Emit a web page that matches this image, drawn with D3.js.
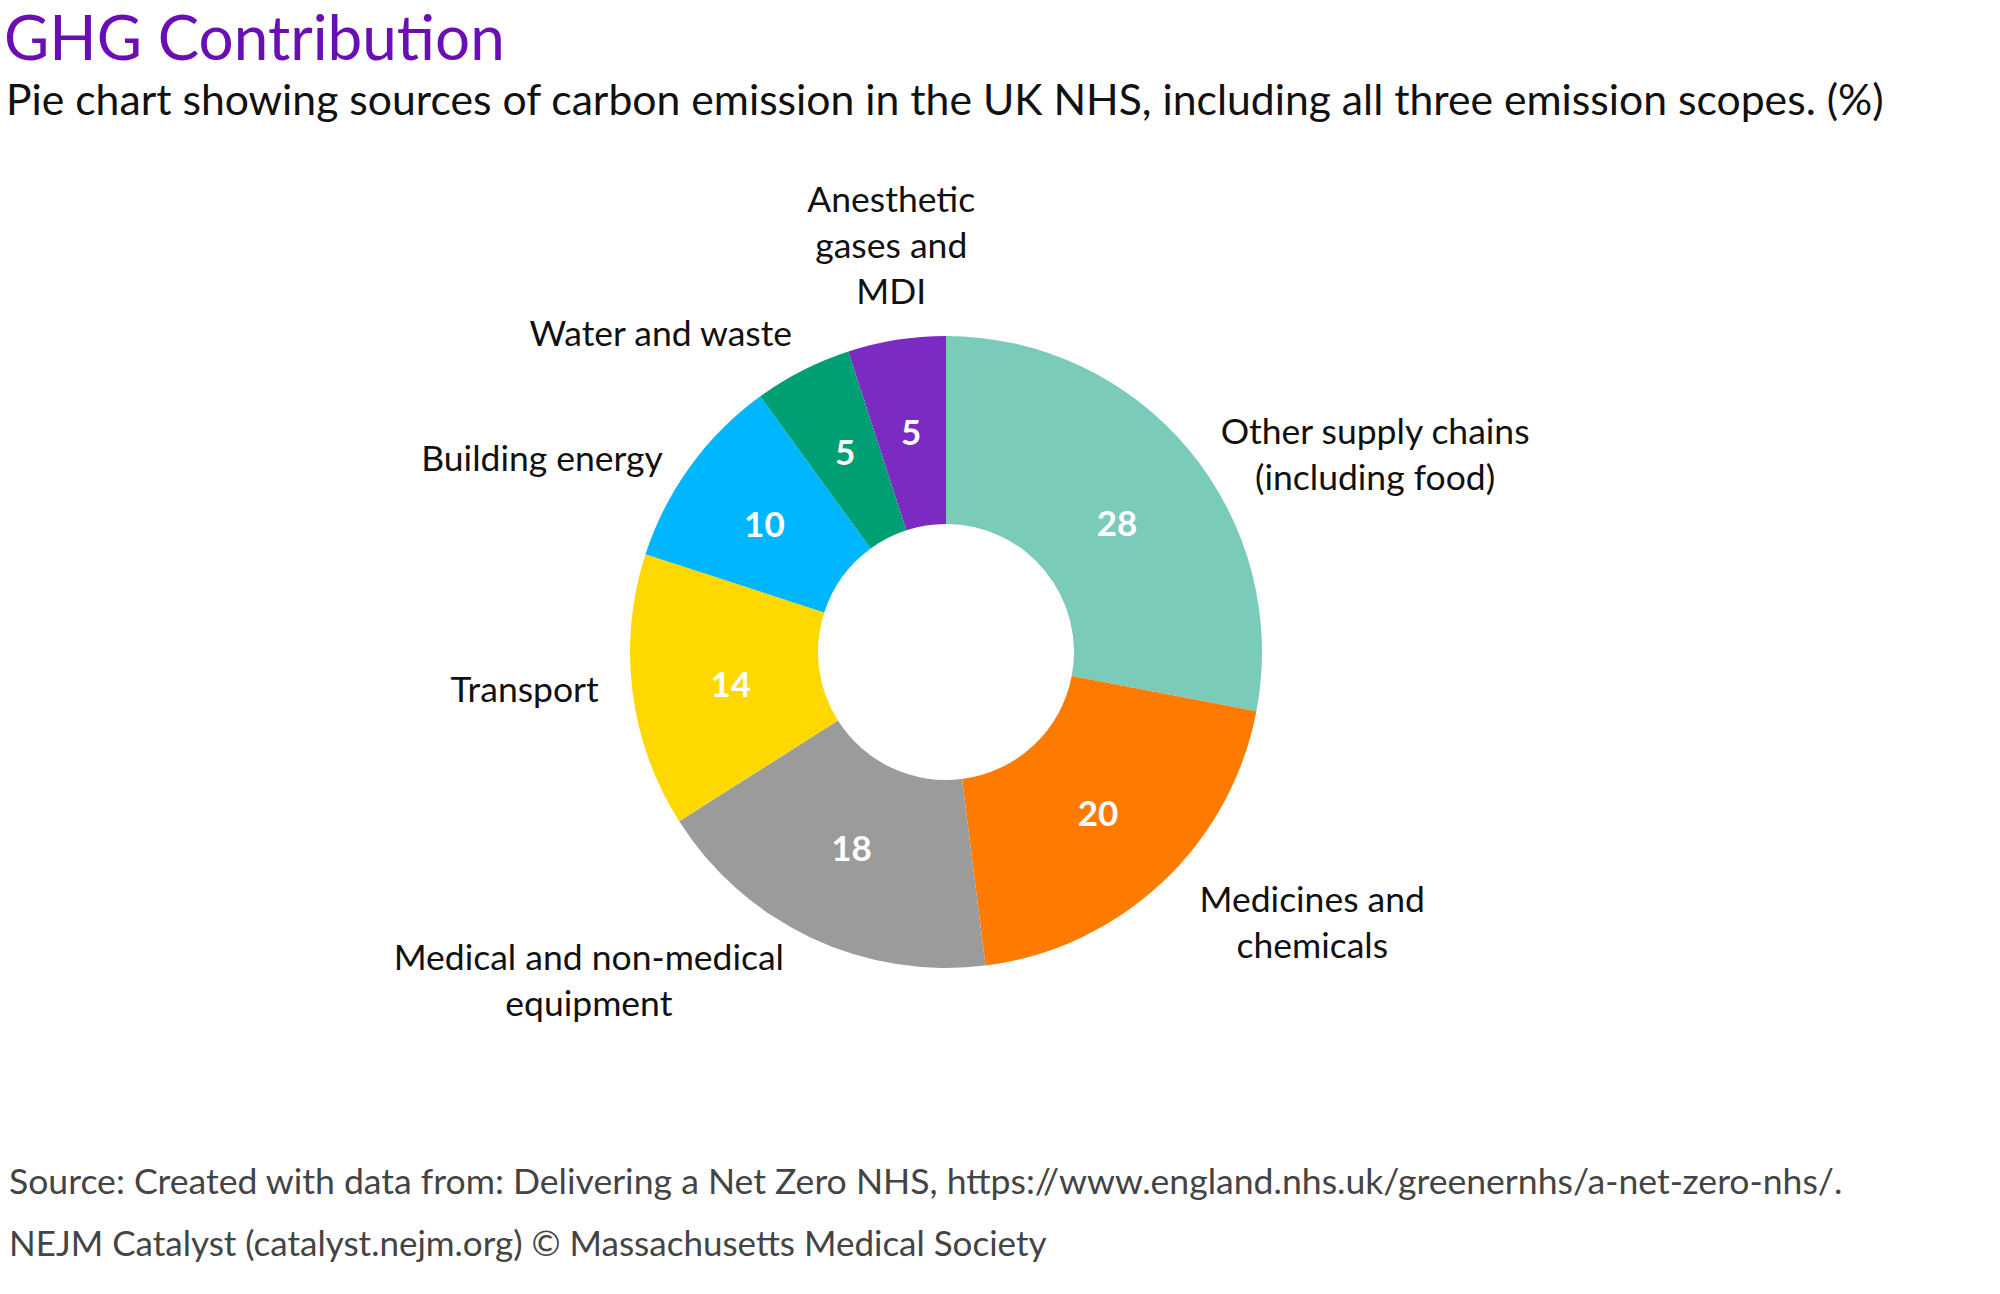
<!DOCTYPE html>
<html>
<head>
<meta charset="utf-8">
<script src="https://cdn.jsdelivr.net/npm/d3@7"></script>
<style>
  html, body { margin: 0; padding: 0; background: #ffffff; }
  svg { display: block; }
  text { font-family: Lato, "Open Sans", sans-serif; }
</style>
</head>
<body>
<svg id="chart" width="2000" height="1294"></svg>
<script>
// ---- data ----
const categories = [
  "Other supply chains|(including food)",
  "Medicines and|chemicals",
  "Medical and non-medical|equipment",
  "Transport",
  "Building energy",
  "Water and waste",
  "Anesthetic|gases and|MDI"
];
const values = [28, 20, 18, 14, 10, 5, 5];
const colors = ["#7bcbbb", "#ff7b00", "#9b9b9b", "#ffd800", "#00b7ff", "#009e73", "#7b2bc2"];

const titleText = "GHG Contribution";
const subtitleText = "Pie chart showing sources of carbon emission in the UK NHS, including all three emission scopes. (%)";
const sourceText = "Source: Created with data from: Delivering a Net Zero NHS, https://www.england.nhs.uk/greenernhs/a-net-zero-nhs/.";
const creditText = "NEJM Catalyst (catalyst.nejm.org) \u00A9 Massachusetts Medical Society";

// ---- layout (label nudges, px) ----
const labelNudge = [[5, 26], [14, 15], [-13, 12], [0, -6], [0, 12], [5, -7], [0, 10]];
const valueNudge = [[0, 13], [0, 0], [0, -4], [5, 5], [-2, 3], [0, -2], [0, 0]];

const svg = d3.select("#chart");
const cx = 946, cy = 652;
const outerR = 316, innerR = 128, labelR = 350;

svg.append("text").attr("x", 4).attr("y", 60)
  .attr("font-size", 62).attr("fill", "#6a0fb5").text(titleText);
svg.append("text").attr("x", 6).attr("y", 115)
  .attr("font-size", 42.7).attr("fill", "#111").text(subtitleText);
svg.append("text").attr("x", 9).attr("y", 1194)
  .attr("font-size", 35.6).attr("fill", "#444").text(sourceText);
svg.append("text").attr("x", 9).attr("y", 1256)
  .attr("font-size", 35.0).attr("fill", "#444").text(creditText);

const data = categories.map((c, i) => ({ name: c, value: values[i], color: colors[i], nudge: labelNudge[i], vnudge: valueNudge[i] }));
const pie = d3.pie().value(d => d.value).sort(null);
const arcs = pie(data);
const arc = d3.arc().innerRadius(innerR).outerRadius(outerR);

const g = svg.append("g").attr("transform", `translate(${cx},${cy})`);
g.selectAll("path.slice").data(arcs).enter().append("path")
  .attr("class", "slice")
  .attr("d", arc)
  .attr("fill", d => d.data.color);

// value labels
g.selectAll("text.val").data(arcs).enter().append("text")
  .attr("class", "val")
  .attr("transform", d => {
    const c = arc.centroid(d);
    return `translate(${c[0] + d.data.vnudge[0]},${c[1] + d.data.vnudge[1]})`;
  })
  .attr("text-anchor", "middle")
  .attr("dy", "0.36em")
  .attr("font-size", 35)
  .attr("font-weight", 700)
  .attr("fill", "#ffffff")
  .text(d => d.data.value);

// category labels
const lineH = 46;
const labelFont = 35.5;
arcs.forEach(d => {
  const mid = (d.startAngle + d.endAngle) / 2;
  const sx = Math.sin(mid), sy = -Math.cos(mid);
  const px = sx * labelR + d.data.nudge[0], py = sy * labelR + d.data.nudge[1];
  const lines = d.data.name.split("|");
  const t = g.append("text").attr("font-size", labelFont).attr("fill", "#111")
    .attr("text-anchor", "middle");
  lines.forEach(l => t.append("tspan").text(l));
  let maxW = 0;
  t.selectAll("tspan").each(function () { maxW = Math.max(maxW, this.getComputedTextLength()); });
  let bx;
  if (Math.abs(sx) < 0.3) bx = px;
  else if (sx > 0) bx = px + maxW / 2;
  else bx = px - maxW / 2;
  const n = lines.length;
  let topBase;
  if (Math.abs(sx) < 0.3 && sy < 0) topBase = py - (n - 1) * lineH - 12;
  else topBase = py - ((n - 1) * lineH) / 2 + labelFont * 0.35;
  t.selectAll("tspan").attr("x", bx).attr("y", (l, i) => topBase + i * lineH);
});
</script>
</body>
</html>
